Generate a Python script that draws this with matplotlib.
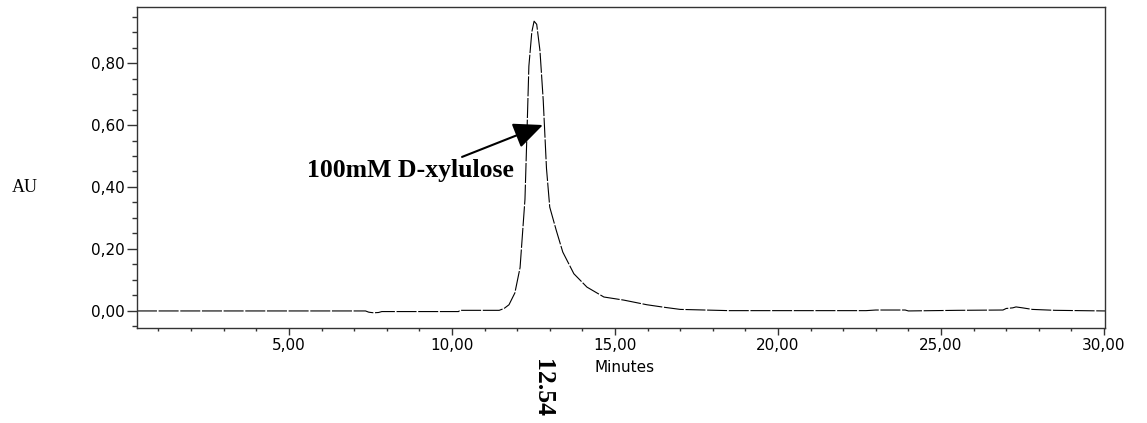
import matplotlib
matplotlib.use('Agg')
import matplotlib.pyplot as plt
from matplotlib.ticker import MultipleLocator, FuncFormatter

# Cromatograma: tiempo (min) y absorbancia (AU)
tiempo = [0.34, 7.35, 7.45, 7.6, 7.75, 7.85, 10.2, 10.25, 11.45, 11.6, 11.75,
          11.93, 12.09, 12.24, 12.30, 12.36, 12.45, 12.52, 12.6, 12.7, 12.8,
          12.9, 13.0, 13.2, 13.4, 13.74, 14.14, 14.66, 15.27, 15.98, 16.5,
          17.0, 18.5, 22.7, 23.0, 23.9, 24.0, 25.5, 26.9, 27.0, 27.2, 27.3,
          27.5, 27.8, 28.5, 30.03]
absorbancia = [0, 0, -0.004, -0.006, -0.005, -0.002, -0.002, 0.002, 0.002,
               0.008, 0.02, 0.058, 0.14, 0.36, 0.57, 0.79, 0.90, 0.935, 0.925,
               0.84, 0.68, 0.46, 0.335, 0.26, 0.19, 0.12, 0.077, 0.045, 0.035,
               0.02, 0.012, 0.005, 0.001, 0.001, 0.003, 0.003, 0.0, 0.002,
               0.003, 0.008, 0.01, 0.013, 0.01, 0.005, 0.002, 0.0]

pico_tiempo = 12.54
pico_nombre = '100mM D-xylulose'

fig = plt.figure(figsize=(11.47, 4.23), dpi=100)
ax = fig.add_axes([0.1194, 0.2246, 0.844, 0.759])

ax.plot(tiempo, absorbancia, color='black', lw=0.8, linestyle=(0, (18, 1.5)))

ax.set_xlim(0.34, 30.03)
ax.set_ylim(-0.055, 0.981)

ax.xaxis.set_major_locator(MultipleLocator(5))
ax.xaxis.set_minor_locator(MultipleLocator(1))
ax.yaxis.set_major_locator(MultipleLocator(0.2))
ax.yaxis.set_minor_locator(MultipleLocator(0.05))
coma = FuncFormatter(lambda v, p: ('%.2f' % v).replace('.', ','))
ax.xaxis.set_major_formatter(coma)
ax.yaxis.set_major_formatter(coma)

for s in ax.spines.values():
    s.set_color('#333333')
    s.set_linewidth(1.0)
ax.tick_params(axis='y', which='major', length=7, width=1, color='#333333', labelsize=11, pad=2)
ax.tick_params(axis='y', which='minor', length=3.5, width=1, color='#333333')
ax.tick_params(axis='x', which='major', length=5, width=1, color='#333333', labelsize=11, pad=2)
ax.tick_params(axis='x', which='minor', length=2.5, width=1, color='#333333')

fig.text(625 / 1147, 1 - 367 / 423, 'Minutes', ha='center', va='center', fontsize=11)
fig.text(25 / 1147, 1 - 187 / 423, 'AU', ha='center', va='center',
         fontsize=13, family='Liberation Serif')

# etiqueta del pico y flecha
ax.text(8.74, 0.452, pico_nombre, ha='center', va='center', fontsize=18.5,
        fontweight='bold', family='Liberation Serif')
ax.annotate('', xy=(12.79, 0.60), xytext=(10.31, 0.497),
            arrowprops=dict(arrowstyle='-|>,head_length=18,head_width=8',
                            mutation_scale=1, color='black', lw=1.5,
                            shrinkA=0, shrinkB=0))
ax.text(pico_tiempo + 0.25, -0.248, '%.2f' % pico_tiempo, rotation=270,
        ha='center', va='center', fontsize=18.5, fontweight='bold',
        family='Liberation Serif', clip_on=False)

plt.savefig('out.png', dpi=100)
